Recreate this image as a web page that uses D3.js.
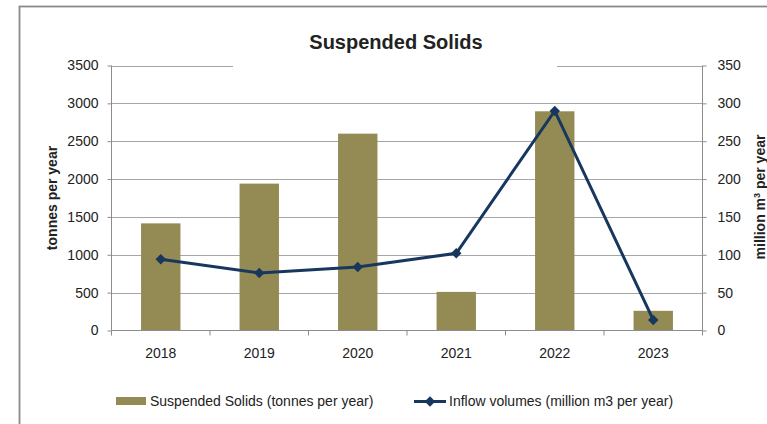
<!DOCTYPE html>
<html>
<head>
<meta charset="utf-8">
<script src="https://cdn.jsdelivr.net/npm/d3@7"></script>
<style>
  body { margin: 0; background: #fff; }
  svg { display: block; }
  text { font-family: "Liberation Sans", Arial, sans-serif; fill: #222; }
</style>
</head>
<body>
<div id="chart"></div>
<script>
var years = ["2018", "2019", "2020", "2021", "2022", "2023"];
var solids = [1415, 1940, 2600, 510, 2895, 260];
var inflow = [94, 76, 84, 102, 290, 14];
var leftTicks = [0, 500, 1000, 1500, 2000, 2500, 3000, 3500];
var rightTicks = [0, 50, 100, 150, 200, 250, 300, 350];

var width = 767,
    height = 424;

// plot area edges
var pLeft = 111.5, pRight = 702.5, pTop = 65.5, pBottom = 330.5;

var svg = d3.select("#chart")
  .append("svg")
  .attr("width", width)
  .attr("height", height);

// chart frame (runs off the right and bottom edge)
svg.append("rect")
  .attr("x", 19.5).attr("y", 6.5)
  .attr("width", width).attr("height", height)
  .attr("fill", "#fff")
  .attr("stroke", "#8a8a8a")
  .attr("stroke-width", 1.8);

var x = d3.scaleBand().domain(years).range([pLeft, pRight]);
var yL = d3.scaleLinear().domain([0, 3500]).range([pBottom, pTop]);
var yR = d3.scaleLinear().domain([0, 350]).range([pBottom, pTop]);

// gridlines
svg.append("g")
  .selectAll("line")
  .data(leftTicks.slice(1))
  .join("line")
  .attr("x1", pLeft).attr("x2", pRight)
  .attr("y1", d => Math.round(yL(d)) + 0.5)
  .attr("y2", d => Math.round(yL(d)) + 0.5)
  .attr("stroke", "#a6a6a6");

// white box behind the title hides part of the top gridline
svg.append("rect")
  .attr("x", 233).attr("y", 22)
  .attr("width", 324).attr("height", 48)
  .attr("fill", "#fff");

svg.append("text")
  .attr("x", 396).attr("y", 49)
  .attr("text-anchor", "middle")
  .attr("font-size", 20)
  .attr("font-weight", "bold")
  .attr("fill", "#000")
  .text("Suspended Solids");

// bars
var barW = x.bandwidth() * 0.4;
svg.append("g")
  .selectAll("rect")
  .data(solids)
  .join("rect")
  .attr("x", (d, i) => x(years[i]) + (x.bandwidth() - barW) / 2)
  .attr("y", d => yL(d))
  .attr("width", barW)
  .attr("height", d => pBottom - yL(d))
  .attr("fill", "#948a54");

// axes
var axisColor = "#8c8c8c";

var gl = svg.append("g").attr("transform", "translate(" + pLeft + ",0)")
  .call(d3.axisLeft(yL).tickValues(leftTicks).tickSize(4).tickPadding(9).tickFormat(d3.format("d")));
var gr = svg.append("g").attr("transform", "translate(" + pRight + ",0)")
  .call(d3.axisRight(yR).tickValues(rightTicks).tickSize(4).tickPadding(11).tickFormat(d3.format("d")));

// x axis with ticks at category boundaries
var gx = svg.append("g").attr("transform", "translate(0," + pBottom + ")");
gx.append("line").attr("x1", pLeft).attr("x2", pRight).attr("stroke", axisColor);
gx.selectAll("line.tk")
  .data(years.concat(["end"]))
  .join("line")
  .attr("class", "tk")
  .attr("x1", (d, i) => i < years.length ? x(d) : pRight)
  .attr("x2", (d, i) => i < years.length ? x(d) : pRight)
  .attr("y1", 0).attr("y2", 5)
  .attr("stroke", axisColor);
gx.selectAll("text")
  .data(years)
  .join("text")
  .attr("x", d => x(d) + x.bandwidth() / 2)
  .attr("y", 27)
  .attr("text-anchor", "middle")
  .attr("font-size", 14)
  .text(d => d);

[gl, gr].forEach(function (g) {
  g.select(".domain").attr("stroke", axisColor).attr("d", "M0," + pBottom + "V" + pTop);
  g.selectAll(".tick line").attr("stroke", axisColor);
  g.selectAll(".tick text").attr("font-size", 14).attr("fill", "#222")
    .style("font-family", "'Liberation Sans', Arial, sans-serif");
});

// line series
var line = d3.line()
  .x((d, i) => x(years[i]) + x.bandwidth() / 2)
  .y(d => yR(d));

svg.append("path")
  .datum(inflow)
  .attr("d", line)
  .attr("fill", "none")
  .attr("stroke", "#17375e")
  .attr("stroke-width", 3);

var diamond = d3.symbol().type(d3.symbolDiamond2).size(70);
svg.append("g")
  .selectAll("path")
  .data(inflow)
  .join("path")
  .attr("transform", (d, i) => "translate(" + (x(years[i]) + x.bandwidth() / 2) + "," + yR(d) + ")")
  .attr("d", diamond)
  .attr("fill", "#17375e");

// axis titles
svg.append("text")
  .attr("transform", "translate(57,198) rotate(-90)")
  .attr("text-anchor", "middle")
  .attr("font-size", 14)
  .attr("font-weight", "bold")
  .attr("fill", "#000")
  .text("tonnes per year");

var rt = svg.append("text")
  .attr("transform", "translate(765,197) rotate(-90)")
  .attr("text-anchor", "middle")
  .attr("font-size", 14)
  .attr("font-weight", "bold")
  .attr("fill", "#000");
rt.append("tspan").text("million m");
rt.append("tspan").attr("dy", -5).attr("font-size", 9).text("3");
rt.append("tspan").attr("dy", 5).text(" per year");

// legend
var lg = svg.append("g");
lg.append("rect")
  .attr("x", 116).attr("y", 397)
  .attr("width", 30).attr("height", 8)
  .attr("fill", "#948a54");
lg.append("text")
  .attr("x", 150).attr("y", 406)
  .attr("font-size", 14)
  .text("Suspended Solids (tonnes per year)");

lg.append("line")
  .attr("x1", 414).attr("x2", 446)
  .attr("y1", 401.5).attr("y2", 401.5)
  .attr("stroke", "#17375e")
  .attr("stroke-width", 3);
lg.append("path")
  .attr("transform", "translate(430,401.5)")
  .attr("d", diamond)
  .attr("fill", "#17375e");
lg.append("text")
  .attr("x", 449).attr("y", 406)
  .attr("font-size", 14)
  .text("Inflow volumes (million m3 per year)");
</script>
</body>
</html>
